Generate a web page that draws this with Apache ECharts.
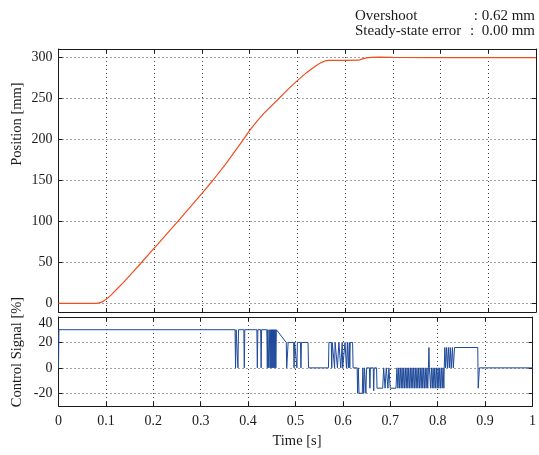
<!DOCTYPE html>
<html><head><meta charset="utf-8">
<script src="https://cdn.jsdelivr.net/npm/echarts@6/dist/echarts.min.js"></script>
<style>html,body{margin:0;padding:0;background:#fff}#c{width:539px;height:455px}</style>
</head><body><div id="c"></div>
<script>
// ---- data ----
const positionSignal = [
  [0,0],[0.05,0],[0.08,0],[0.085,0.5],[0.09,1.5],[0.095,3],[0.1,5],[0.11,10],[0.12,16],[0.135,25],
  [0.15,34.5],[0.171,48],[0.2,67],[0.25,100],[0.3,134],[0.323,150],[0.35,170],[0.386,199],[0.4,211],
  [0.415,222],[0.43,232],[0.458,248],[0.48,261],[0.5,272],[0.52,282],[0.54,290.5],[0.55,294],
  [0.558,296],[0.565,296.6],[0.6,296.7],[0.628,296.9],[0.635,298.3],[0.645,299.8],[0.656,300.4],
  [0.67,300.6],[0.7,300.3],[0.8,300.1],[0.9,300.0],[1.0,300.0]
];
const controlSignal = [
  [0,0],[0.0008,30],
  [0.3725,30],[0.3735,0],[0.3748,30],[0.3775,30],[0.3785,0],[0.3798,30],
  [0.391,30],[0.392,0],[0.393,30],
  [0.4185,30],[0.4195,0],[0.4205,30],
  [0.4265,30],[0.4275,0],[0.4285,30],
  [0.4395,30],[0.4405,0],[0.4415,30],
  [0.4425,30],[0.4435,0],[0.4445,30],
  [0.4455,30],[0.4465,0],[0.4475,30],
  [0.4485,0],[0.4495,30],[0.4505,0],[0.4515,30],[0.4525,0],[0.4535,30],
  [0.4545,0],[0.4555,30],[0.4565,0],[0.4575,30],[0.4585,0],[0.4597,30],
  [0.465,27.5],[0.47,25],[0.475,22.6],[0.4805,20],
  [0.4815,0],[0.4835,0],[0.4845,20],
  [0.496,20],[0.497,0],[0.498,20],
  [0.502,20],[0.503,0],[0.504,20],
  [0.5105,20],[0.5115,0],[0.5125,20],
  [0.5265,20],[0.5275,0],
  [0.5695,0],[0.5705,20],[0.5755,20],[0.5765,0],[0.5775,20],[0.5815,20],[0.5825,0],[0.5835,20],
  [0.5875,20],[0.5885,0],[0.5905,0],[0.5915,20],[0.5945,20],[0.5955,0],[0.5975,0],[0.5985,20],
  [0.5995,0],[0.6035,0],[0.6045,20],[0.6065,20],[0.6075,0],[0.6095,20],[0.6115,0],[0.6135,20],
  [0.6145,0],[0.6155,20],[0.6205,20],[0.6215,0],
  [0.630,0],[0.631,-20],[0.6325,0],[0.634,-20],[0.641,-20],[0.642,0],[0.644,-20],[0.6455,0],
  [0.6485,-20],[0.650,0],[0.656,0],[0.657,-16],[0.658,0],[0.664,0],[0.665,-18],[0.666,0],
  [0.671,0],[0.672,-16],[0.684,-16],[0.686,0],[0.689,-16],[0.6915,0],[0.695,-16],[0.697,0],
  [0.700,-16],[0.712,-16],[0.714,0],
  [0.716,-16],[0.7178,0],[0.7195,-16],[0.7213,0],[0.723,-16],[0.7248,0],[0.7265,-16],[0.7283,0],
  [0.730,-16],[0.7318,0],[0.7335,-16],[0.7353,0],[0.737,-16],[0.7388,0],[0.7405,-16],[0.7423,0],
  [0.744,-16],[0.7458,0],[0.7475,-16],[0.7493,0],[0.751,-16],[0.7528,0],[0.7545,-16],[0.7563,0],
  [0.758,-16],[0.7598,0],[0.7615,-16],[0.7633,0],[0.765,-16],[0.7668,0],[0.7685,-16],[0.7703,0],
  [0.772,-16],[0.7738,0],[0.7755,-16],[0.7773,0],[0.779,-16],[0.7805,0],[0.7815,16],[0.7825,0],
  [0.785,-16],[0.7868,0],[0.7885,-16],[0.7903,0],[0.792,-16],[0.7938,0],[0.7955,-16],[0.7973,0],
  [0.799,-16],[0.8008,0],[0.8025,-16],[0.8043,0],[0.806,-16],[0.8078,0],[0.8095,-16],[0.8113,0],
  [0.813,-16],[0.8138,0],
  [0.815,16],[0.8165,0],[0.8185,16],[0.8205,0],[0.8225,16],[0.8245,0],[0.8265,16],[0.8285,0],
  [0.831,16],[0.833,0],[0.8355,16],[0.8845,16],[0.8855,-16],[0.8865,-16],[0.888,0],[1,0]
];
const positionTicks = [0,50,100,150,200,250,300];
const controlTicks = [-20,0,20,40];
const infoLabels = ['Overshoot', 'Steady-state error'];
const infoValues = [': 0.62 mm', ':  0.00 mm'];
const axisTitles = ['Position [mm]', 'Control Signal [%]', 'Time [s]'];

// ---- chart ----
const FONT = 'Liberation Serif, Times New Roman, serif';
const INK = '#1a1a1a';
const chart = echarts.init(document.getElementById('c'), null, {renderer: 'canvas'});
const grids = [
  {left: 58.5, width: 477.5, top: 49, height: 263},
  {left: 58.5, width: 477.5, top: 317, height: 89}
];
const axisLine = {show: true, onZero: false, lineStyle: {color: INK, width: 1}};
const tick = {show: true, inside: true, length: 4, lineStyle: {color: INK, width: 1}};
const dotted = {show: true, lineStyle: {color: '#444', width: 1, type: [1, 3]}};
const label = {color: INK, fontFamily: FONT, fontSize: 14};

function xAx(grid, pos, showLabel, split) {
  return {type: 'value', gridIndex: grid, position: pos, min: 0, max: 1, interval: 0.1,
    axisLine, axisTick: tick, splitLine: split ? dotted : {show: false},
    axisLabel: showLabel ? Object.assign({margin: 8}, label) : {show: false}};
}
function yAx(grid, pos, min, max, ticks, showLabel, split, extraLabel) {
  return {type: 'value', gridIndex: grid, position: pos, min, max,
    axisLine, axisTick: Object.assign({customValues: ticks}, tick),
    splitLine: split ? dotted : {show: false},
    axisLabel: showLabel ? Object.assign({customValues: ticks, margin: 6}, label, extraLabel || {}) : {show: false}};
}

const infoFont = '15px ' + FONT;
const titleFont = '14.5px ' + FONT;
const option = {
  animation: false,
  backgroundColor: '#fff',
  grid: grids,
  xAxis: [xAx(0, 'bottom', false, true), xAx(0, 'top', false, false),
          xAx(1, 'bottom', true, true), xAx(1, 'top', false, false)],
  yAxis: [
    yAx(0, 'left', -10.6, 310.6, positionTicks, true, true),
    yAx(0, 'right', -10.6, 310.6, positionTicks, false, false),
    yAx(1, 'left', -30, 40, controlTicks, true, true, {
      formatter: v => v === 40 ? '{t|40}' : String(v),
      rich: {t: {color: INK, fontFamily: FONT, fontSize: 14, padding: [12, 0, 0, 0]}}
    }),
    yAx(1, 'right', -30, 40, controlTicks, false, false)
  ],
  series: [
    {type: 'line', xAxisIndex: 0, yAxisIndex: 0, data: positionSignal, showSymbol: false,
     lineStyle: {color: '#f04e1e', width: 1.2}, silent: true},
    {type: 'line', xAxisIndex: 2, yAxisIndex: 2, data: controlSignal, showSymbol: false,
     lineStyle: {color: '#1f4a9a', width: 1}, silent: true}
  ],
  graphic: [
    {type: 'text', x: 355, y: 16.5, style: {text: infoLabels[0], font: infoFont, fill: INK, textVerticalAlign: 'middle'}},
    {type: 'text', x: 355, y: 31.5, style: {text: infoLabels[1], font: infoFont, fill: INK, textVerticalAlign: 'middle'}},
    {type: 'text', x: 535, y: 16.5, style: {text: infoValues[0], font: infoFont, fill: INK, textAlign: 'right', textVerticalAlign: 'middle'}},
    {type: 'text', x: 535, y: 31.5, style: {text: infoValues[1], font: infoFont, fill: INK, textAlign: 'right', textVerticalAlign: 'middle'}},
    {type: 'text', x: 17, y: 124, rotation: Math.PI / 2, style: {text: axisTitles[0], font: titleFont, fill: INK, textAlign: 'center', textVerticalAlign: 'middle'}},
    {type: 'text', x: 17, y: 352, rotation: Math.PI / 2, style: {text: axisTitles[1], font: titleFont, fill: INK, textAlign: 'center', textVerticalAlign: 'middle'}},
    {type: 'text', x: 297, y: 441, style: {text: axisTitles[2], font: titleFont, fill: INK, textAlign: 'center', textVerticalAlign: 'middle'}}
  ]
};
chart.setOption(option);
</script>
</body></html>
